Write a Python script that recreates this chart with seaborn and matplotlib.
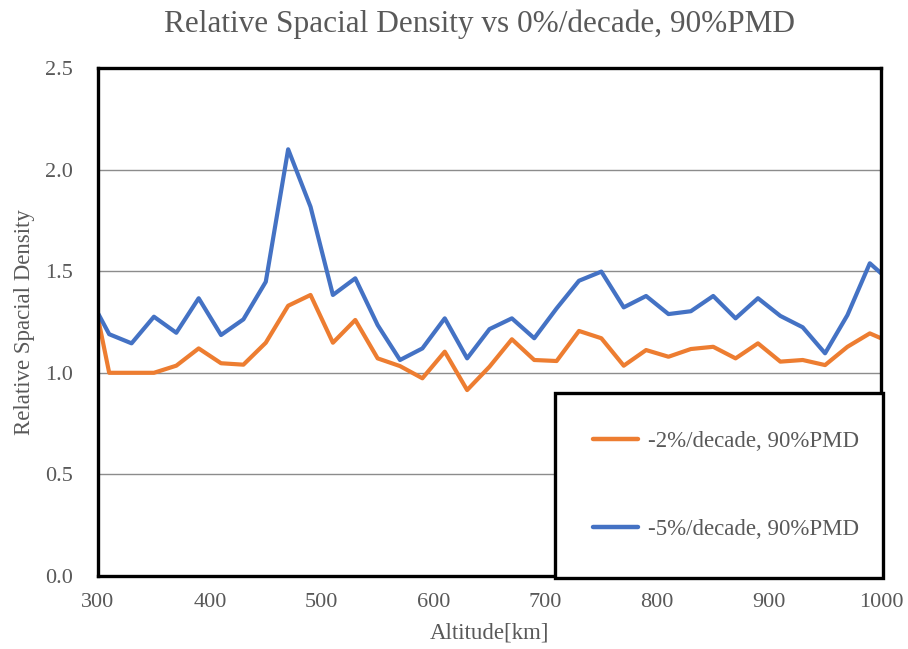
import matplotlib
matplotlib.use("Agg")
import matplotlib.pyplot as plt
import seaborn as sns
import pandas as pd
from matplotlib.ticker import FormatStrFormatter

# Altitude grid [km]
altitude = [300] + list(range(310, 1000, 20)) + [1000]

# Relative spatial density against the 0%/decade, 90%PMD case
minus2 = [1.27, 1.00, 1.00, 1.00, 1.035, 1.12, 1.047, 1.04, 1.148, 1.33,
          1.383, 1.148, 1.26, 1.071, 1.033, 0.973, 1.104, 0.915, 1.03, 1.165,
          1.063, 1.058, 1.206, 1.17, 1.035, 1.112, 1.079, 1.117, 1.128, 1.071,
          1.145, 1.055, 1.063, 1.038, 1.128, 1.194, 1.17]
minus5 = [1.293, 1.19, 1.145, 1.276, 1.197, 1.367, 1.186, 1.263, 1.448, 2.10,
          1.817, 1.383, 1.465, 1.235, 1.063, 1.12, 1.268, 1.071, 1.215, 1.268,
          1.17, 1.317, 1.453, 1.498, 1.322, 1.378, 1.289, 1.303, 1.378, 1.268,
          1.367, 1.28, 1.224, 1.096, 1.284, 1.539, 1.49]

labels = ["-2%/decade, 90%PMD", "-5%/decade, 90%PMD"]
colors = ["#ED7D31", "#4472C4"]

xticks = list(range(300, 1001, 100))
yticks = [0.0, 0.5, 1.0, 1.5, 2.0, 2.5]

df = pd.DataFrame({
    "Altitude": altitude * 2,
    "Density": minus2 + minus5,
    "Case": [labels[0]] * len(altitude) + [labels[1]] * len(altitude),
})

sns.set_theme(style="white")
plt.rcParams["font.family"] = ["Liberation Serif", "DejaVu Serif"]
text_gray = "#595959"

fig = plt.figure(figsize=(9.08, 6.49), dpi=100)
ax = fig.add_axes([98 / 908, 1 - 576 / 649, 783 / 908, 508 / 649])

sns.lineplot(data=df, x="Altitude", y="Density", hue="Case",
             palette=dict(zip(labels, colors)), linewidth=3.0, ax=ax,
             legend=False)

ax.set_xlim(300, 1000)
ax.set_ylim(0, 2.5)
ax.set_xticks(xticks)
ax.set_yticks(yticks)
ax.yaxis.set_major_formatter(FormatStrFormatter("%.1f"))
ax.tick_params(axis="both", length=0, labelsize=16, labelcolor=text_gray)
ax.tick_params(axis="y", pad=18)
ax.tick_params(axis="x", pad=12)
ax.grid(axis="y", color="#8c8c8c", linewidth=1.0)
ax.grid(axis="x", visible=False)
for sp in ax.spines.values():
    sp.set_visible(True)
    sp.set_color("black")
    sp.set_linewidth(2.4)

ax.set_xlabel("Altitude[km]", fontsize=16.5, color=text_gray, labelpad=8)
ax.set_ylabel("Relative Spacial Density", fontsize=16.5, color=text_gray, labelpad=7)

fig.text(479 / 908, 1 - 24 / 649, "Relative Spacial Density vs 0%/decade, 90%PMD",
         ha="center", va="center", fontsize=22.5, color=text_gray)

handles = [plt.Line2D([], [], color=c, linewidth=3.2) for c in colors]
leg = ax.legend(handles, labels, loc="lower left",
                bbox_to_anchor=(0.584, -0.004, 0.418, 0.36), mode="expand",
                borderaxespad=0, fontsize=16.5, labelcolor=text_gray,
                handlelength=1.96, handletextpad=0.44, labelspacing=2.95,
                borderpad=1.65, fancybox=False, framealpha=1,
                edgecolor="black")
leg.get_frame().set_linewidth(2.4)
leg.set_zorder(5)

fig.savefig("out.png", dpi=100)
